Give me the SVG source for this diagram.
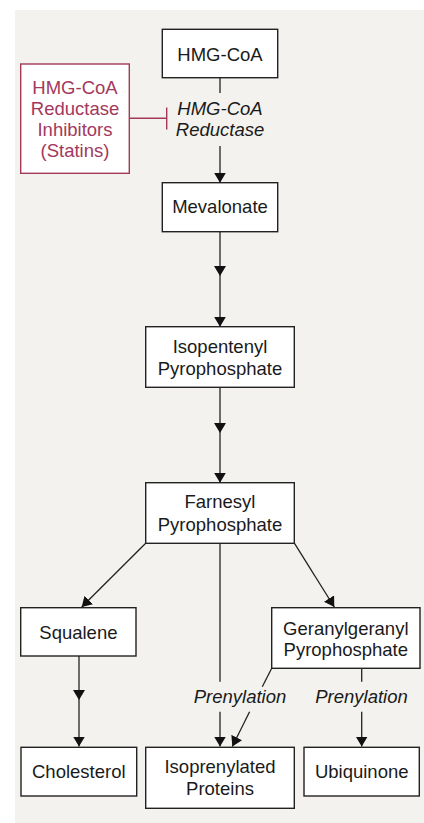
<svg xmlns="http://www.w3.org/2000/svg" width="424" height="823" viewBox="0 0 424 823">
<defs>
<marker id="arr" viewBox="0 0 10 12" refX="10" refY="6" markerWidth="10" markerHeight="12" markerUnits="userSpaceOnUse" orient="auto"><path d="M0,0 L10,6 L0,12 Z" fill="#111"/></marker>
<style>
.box{fill:#fff;stroke:#222;stroke-width:1.4}
.t{font-family:"Liberation Sans",Arial,sans-serif;font-size:18.5px;fill:#1a1a1a;text-anchor:middle}
.i{font-style:italic}
.c{stroke:#222;stroke-width:1.3;fill:none}
.a{marker-end:url(#arr)}
.red{stroke:#a3385c;stroke-width:1.4;fill:none}
</style>
</defs>
<rect x="15" y="10" width="409" height="813" fill="#f3f2ee"/>
<g id="connectors">
<line class="c" x1="220" y1="77.7" x2="220" y2="93"/>
<line class="c a" x1="220" y1="146" x2="220" y2="182.7"/>
<line class="c a" x1="220" y1="231.7" x2="220" y2="276"/>
<line class="c a" x1="220" y1="276" x2="220" y2="326.7"/>
<line class="c a" x1="220" y1="387.3" x2="220" y2="433"/>
<line class="c a" x1="220" y1="433" x2="220" y2="482.7"/>
<line class="c a" x1="145.7" y1="543.3" x2="81.7" y2="607"/>
<line class="c a" x1="294.5" y1="543.3" x2="334.3" y2="607"/>
<line class="c" x1="220" y1="543.3" x2="220" y2="681.7"/>
<line class="c a" x1="220" y1="711.7" x2="220" y2="746.5"/>
<line class="c" x1="271.7" y1="668.3" x2="262.3" y2="686.7"/>
<line class="c a" x1="249.6" y1="711.7" x2="232.3" y2="746.5"/>
<line class="c" x1="361.7" y1="668.3" x2="361.7" y2="681.7"/>
<line class="c a" x1="361.7" y1="711.7" x2="361.7" y2="746.5"/>
<line class="c a" x1="79" y1="656" x2="79" y2="700"/>
<line class="c a" x1="79" y1="700" x2="79" y2="746.5"/>
<line class="red" x1="129.3" y1="118.3" x2="166.7" y2="118.3"/>
<line class="red" x1="166.7" y1="107.5" x2="166.7" y2="129.5"/>
<text class="t i" x="220" y="115">HMG-CoA</text>
<text class="t i" x="220" y="136">Reductase</text>
<text class="t i" x="240" y="703.3">Prenylation</text>
<text class="t i" x="361.5" y="703.3">Prenylation</text>
</g>
<g id="statins">
<rect class="red" x="20.7" y="64" width="108.6" height="109.3" fill="#fff" style="fill:#fff"/>
<text class="t" x="75" y="94" style="fill:#a3385c">HMG-CoA</text>
<text class="t" x="75" y="115" style="fill:#a3385c">Reductase</text>
<text class="t" x="75" y="136" style="fill:#a3385c">Inhibitors</text>
<text class="t" x="75" y="157" style="fill:#a3385c">(Statins)</text>
</g>
<g id="hmgcoa">
<rect class="box" x="162.3" y="29.3" width="115.4" height="48.4"/>
<text class="t" x="220" y="60.5">HMG-CoA</text>
</g>
<g id="mevalonate">
<rect class="box" x="162.3" y="182.7" width="115.4" height="49"/>
<text class="t" x="220" y="213.3">Mevalonate</text>
</g>
<g id="isopentenyl">
<rect class="box" x="145.7" y="326.7" width="148.6" height="60.6"/>
<text class="t" x="220" y="353.3">Isopentenyl</text>
<text class="t" x="220" y="375">Pyrophosphate</text>
</g>
<g id="farnesyl">
<rect class="box" x="145.7" y="482.7" width="148.6" height="60.6"/>
<text class="t" x="220" y="508.3">Farnesyl</text>
<text class="t" x="220" y="530.7">Pyrophosphate</text>
</g>
<g id="squalene">
<rect class="box" x="20.7" y="607.7" width="115.3" height="48.3"/>
<text class="t" x="78.4" y="639.3">Squalene</text>
</g>
<g id="geranylgeranyl">
<rect class="box" x="271.7" y="607.7" width="148.3" height="60.6"/>
<text class="t" x="345.8" y="635">Geranylgeranyl</text>
<text class="t" x="345.8" y="656">Pyrophosphate</text>
</g>
<g id="cholesterol">
<rect class="box" x="21" y="747.3" width="115.7" height="48.7"/>
<text class="t" x="78.8" y="778.3">Cholesterol</text>
</g>
<g id="isoprenylated">
<rect class="box" x="145.7" y="747.3" width="148.6" height="61"/>
<text class="t" x="220" y="773.3">Isoprenylated</text>
<text class="t" x="220" y="795">Proteins</text>
</g>
<g id="ubiquinone">
<rect class="box" x="304" y="747.3" width="115.3" height="48.7"/>
<text class="t" x="361.7" y="778.3">Ubiquinone</text>
</g>
</svg>
